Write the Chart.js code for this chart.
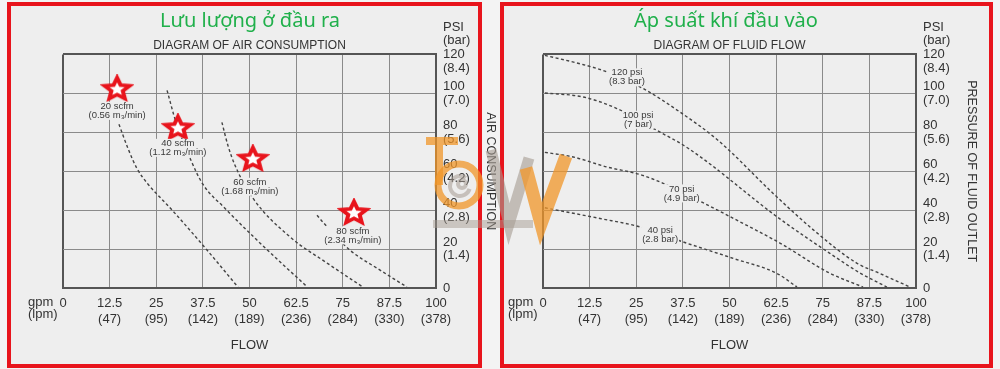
<!DOCTYPE html>
<html>
<head>
<meta charset="utf-8">
<script src="https://cdn.jsdelivr.net/npm/chart.js@4.4.1/dist/chart.umd.min.js"></script>
<style>
  html, body { margin: 0; padding: 0; background: #f3f3f3; }
  #wrap { position: relative; width: 1000px; height: 369px; overflow: hidden; }
  .box { position: absolute; top: 2px; height: 366px; box-sizing: border-box; border: 4px solid #e8141c; background: #eeeeee; }
  #boxL { left: 7px; width: 475px; }
  #boxR { left: 500px; width: 493px; }
  canvas { position: absolute; top: 0; }
  #airChart { left: 0; }
  #fluidChart { left: 500px; }
  #overlay { left: 0; pointer-events: none; }
</style>
</head>
<body>
<div id="wrap">
  <div class="box" id="boxL"></div>
  <div class="box" id="boxR"></div>
  <canvas id="airChart" width="500" height="369"></canvas>
  <canvas id="fluidChart" width="500" height="369"></canvas>
  <canvas id="overlay" width="1000" height="369"></canvas>
</div>
<script>
// axis tick labels
const gpmLabels = ['0', '12.5', '25', '37.5', '50', '62.5', '75', '87.5', '100'];
const lpmLabels = ['', '(47)', '(95)', '(142)', '(189)', '(236)', '(284)', '(330)', '(378)'];
const psiLabels = ['0', '20', '40', '60', '80', '100', '120'];
const barLabels = ['', '(1.4)', '(2.8)', '(4.2)', '(5.6)', '(7.0)', '(8.4)'];

// air consumption curves (x = gpm, y = psi)
const scfm20 = [[15.0, 84.1], [17.4, 71.8], [19.8, 61.5], [22.8, 53.3], [26.5, 45.6], [29.5, 39.5], [38.6, 19.5], [46.9, 0.5]];
const scfm40 = [[27.9, 101.5], [30.3, 85.1], [34.3, 65.6], [37.5, 53.3], [43.4, 41.0], [52.0, 24.6], [65.5, 0.5]];
const scfm60 = [[42.6, 85.1], [44.2, 73.3], [46.1, 63.1], [50.9, 46.2], [60.9, 26.2], [70.8, 12.8], [80.4, 0.5]];
const scfm80 = [[68.1, 37.4], [69.7, 33.8], [76.9, 19.5], [85.0, 9.2], [92.2, 0.5]];
const airNames = ['20 scfm', '40 scfm', '60 scfm', '80 scfm'];
const airSubs = ['(0.56 m\u2083/min)', '(1.12 m\u2083/min)', '(1.68 m\u2083/min)', '(2.34 m\u2083/min)'];
const airLabelPos = [[14.5, 91], [30.8, 72], [50.1, 52], [77.7, 27]];
const airStars = [[14.5, 102.6], [30.8, 82.6], [50.9, 66.7], [78.0, 39.0]];

// fluid flow curves (x = gpm, y = psi)
const psi120 = [[0.5, 119.5], [9.9, 115.2], [16.6, 111.4], [26.9, 102.4], [36.7, 90.4], [46.9, 75.9], [61.7, 48.6], [72.4, 30.0], [84.1, 12.8], [90.3, 7.5], [98.4, 0.5]];
const psi100 = [[0.5, 100.2], [10.8, 98.1], [19.8, 92.2], [30.5, 81.0], [38.9, 71.8], [63.5, 35.5], [76.9, 17.8], [85.0, 7.7], [92.2, 0.5]];
const psi70 = [[0.5, 69.7], [8.1, 67.3], [17.1, 62.2], [26.0, 58.3], [32.2, 53.8], [42.6, 44.1], [50.9, 35.9], [63.5, 23.1], [76.9, 7.6], [85.8, 0.5]];
const psi40 = [[0.5, 41.2], [15.3, 35.7], [26.0, 31.4], [37.5, 23.7], [51.0, 15.2], [62.7, 7.5], [68.1, 0.5]];
const fluidNames = ['120 psi', '100 psi', '70 psi', '40 psi'];
const fluidSubs = ['(8.3 bar)', '(7 bar)', '(4.9 bar)', '(2.8 bar)'];
const fluidLabelPos = [[22.5, 108.2], [25.5, 86.4], [37.2, 48.6], [31.4, 27.2]];

const FONT = '"Liberation Sans", Arial, sans-serif';
const toXY = arr => arr.map(p => ({ x: p[0], y: p[1] }));

// red star used as point style
function makeStar() {
    const c = document.createElement('canvas');
    c.width = 34;
    c.height = 28;
    const g = c.getContext('2d');
    g.translate(17, 15);
    g.scale(1.15, 1);
    g.beginPath();
    for (let i = 0; i < 10; i++) {
        const r = i % 2 ? 5.2 : 11.5;
        const a = -Math.PI / 2 + i * Math.PI / 5;
        g.lineTo(r * Math.cos(a), r * Math.sin(a));
    }
    g.closePath();
    g.fillStyle = '#ffffff';
    g.fill();
    g.lineWidth = 3.5;
    g.lineJoin = 'miter';
    g.strokeStyle = '#e8141c';
    g.stroke();
    return c;
}
const starImg = makeStar();

// curve labels with a small background patch
const curveLabelPlugin = {
    id: 'curveLabels',
    afterDatasetsDraw(chart, args, opts) {
        const { ctx, scales: { x, y } } = chart;
        ctx.save();
        ctx.font = '9.5px ' + FONT;
        ctx.textAlign = 'center';
        ctx.textBaseline = 'middle';
        opts.names.forEach((name, i) => {
            const px = x.getPixelForValue(opts.pos[i][0]);
            const py = y.getPixelForValue(opts.pos[i][1]);
            const w = Math.max(ctx.measureText(name).width, ctx.measureText(opts.subs[i]).width) + 2;
            ctx.fillStyle = '#eeeeee';
            ctx.fillRect(px - w / 2, py - 9, w, 18);
            ctx.fillStyle = '#3a3a3a';
            ctx.fillText(name, px, py - 4.5);
            ctx.fillText(opts.subs[i], px, py + 4.5);
        });
        ctx.restore();
    }
};

function curve(points) {
    return {
        data: toXY(points),
        showLine: true,
        borderColor: '#444444',
        borderWidth: 1.4,
        borderDash: [3, 2.5],
        pointRadius: 0,
        cubicInterpolationMode: 'monotone',
        fill: false
    };
}

function makeOptions(cfg) {
    return {
        responsive: false,
        devicePixelRatio: 1,
        animation: false,
        layout: { padding: { left: cfg.padLeft, right: cfg.padRight, top: 0, bottom: 10 } },
        plugins: {
            legend: { display: false },
            tooltip: { enabled: false },
            title: {
                display: true,
                text: cfg.title,
                fullSize: false,
                color: '#333333',
                font: { family: FONT, size: 12, weight: 'normal' },
                padding: { top: 38, bottom: 2 }
            },
            curveLabels: cfg.labels
        },
        scales: {
            x: {
                type: 'linear',
                min: 0,
                max: 100,
                afterFit: s => { s.height = 71; },
                grid: {
                    drawTicks: false,
                    color: c => (c.index === 0 || c.index === 8) ? '#555555' : '#8a8a8a',
                    lineWidth: c => (c.index === 0 || c.index === 8) ? 2 : 1
                },
                border: { color: '#555555', width: 2 },
                ticks: {
                    stepSize: 12.5,
                    autoSkip: false,
                    maxRotation: 0,
                    padding: 7,
                    color: '#333333',
                    font: { family: FONT, size: 13, lineHeight: 1.23 },
                    callback: (v, i) => i === 0 ? gpmLabels[0] : [gpmLabels[i], lpmLabels[i]]
                },
                title: {
                    display: true,
                    text: 'FLOW',
                    color: '#333333',
                    font: { family: FONT, size: 13 },
                    padding: { top: 0, bottom: 6 }
                }
            },
            y: {
                type: 'linear',
                position: 'right',
                min: 0,
                max: 120,
                afterFit: s => { s.width = cfg.yWidth; },
                grid: {
                    drawTicks: false,
                    color: c => (c.index === 0 || c.index === 6) ? '#555555' : '#8a8a8a',
                    lineWidth: c => (c.index === 0 || c.index === 6) ? 2 : 1
                },
                border: { color: '#555555', width: 2 },
                ticks: {
                    stepSize: 20,
                    autoSkip: false,
                    padding: 7,
                    color: '#333333',
                    font: { family: FONT, size: 13, lineHeight: 1.05 },
                    callback: (v, i) => {
                        if (i === 0) return psiLabels[0];
                        if (i === 6) return ['', psiLabels[6], barLabels[6]];
                        return [psiLabels[i], barLabels[i]];
                    }
                },
                title: {
                    display: true,
                    text: cfg.yTitle,
                    color: '#333333',
                    font: { family: FONT, size: 12.5 },
                    padding: { top: cfg.yTitlePad, bottom: 0 }
                }
            }
        }
    };
}

new Chart(document.getElementById('airChart'), {
    type: 'scatter',
    data: {
        datasets: [
            { data: toXY(airStars), pointStyle: starImg, pointRadius: 10, showLine: false, order: -1 },
            curve(scfm20), curve(scfm40), curve(scfm60), curve(scfm80)
        ]
    },
    options: makeOptions({
        padLeft: 63, padRight: 0, yWidth: 64, yTitlePad: 1.8,
        title: 'DIAGRAM OF AIR CONSUMPTION',
        yTitle: 'AIR CONSUMPTION',
        labels: { names: airNames, subs: airSubs, pos: airLabelPos }
    }),
    plugins: [curveLabelPlugin]
});

new Chart(document.getElementById('fluidChart'), {
    type: 'scatter',
    data: {
        datasets: [curve(psi120), curve(psi100), curve(psi70), curve(psi40)]
    },
    options: makeOptions({
        padLeft: 43, padRight: 16, yWidth: 68, yTitlePad: 4.8,
        title: 'DIAGRAM OF FLUID FLOW',
        yTitle: 'PRESSURE OF FLUID OUTLET',
        labels: { names: fluidNames, subs: fluidSubs, pos: fluidLabelPos }
    }),
    plugins: [curveLabelPlugin]
});

// headings, unit labels and the watermark logo
const ov = document.getElementById('overlay').getContext('2d');
ov.fillStyle = '#20b04b';
ov.font = '20px "Noto Sans", sans-serif';
ov.textAlign = 'center';
ov.textBaseline = 'alphabetic';
ov.fillText('Lưu lượng ở đầu ra', 250, 27);
ov.fillText('Áp suất khí đầu vào', 726, 27);

ov.fillStyle = '#333333';
ov.font = '13px ' + FONT;
ov.textAlign = 'left';
ov.textBaseline = 'middle';
[443, 923].forEach(x => {
    ov.fillText('PSI', x, 27);
    ov.fillText('(bar)', x, 40);
});
[28, 508].forEach(x => {
    ov.fillText('gpm', x, 302);
    ov.fillText('(lpm)', x, 314);
});

function drawLogo(g) {
    g.save();
    g.fillStyle = 'rgba(165,155,145,0.5)';
    g.fillRect(433, 220, 100, 8);
    g.strokeStyle = 'rgba(165,155,145,0.6)';
    g.lineWidth = 11;
    g.lineJoin = 'miter';
    g.beginPath();
    g.moveTo(491, 150);
    g.lineTo(509, 224);
    g.lineTo(529, 158);
    g.stroke();

    g.strokeStyle = 'rgba(240,150,40,0.75)';
    g.lineWidth = 13;
    g.beginPath();
    g.moveTo(526, 168);
    g.lineTo(541, 224);
    g.lineTo(566, 156);
    g.stroke();

    g.fillStyle = 'rgba(240,150,40,0.75)';
    g.fillRect(426, 137, 32, 8);
    g.fillRect(435, 145, 8, 40);
    g.lineWidth = 7;
    g.beginPath();
    g.arc(459, 185, 21, 0, Math.PI * 2);
    g.stroke();

    g.strokeStyle = 'rgba(165,155,145,0.55)';
    g.lineWidth = 4;
    g.beginPath();
    g.arc(460, 186, 10, 0.3, Math.PI * 1.7);
    g.stroke();
    g.beginPath();
    g.arc(462, 184, 4, 0, Math.PI * 2);
    g.stroke();
    g.restore();
}
drawLogo(ov);
</script>
</body>
</html>
